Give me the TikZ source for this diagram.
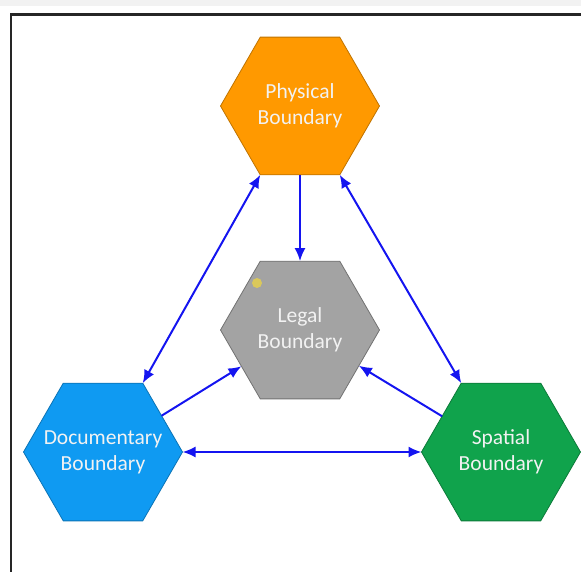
\documentclass[tikz,border=0pt]{standalone}
\usepackage{fontspec}
\setmainfont{Carlito}
\usetikzlibrary{shapes.geometric,arrows.meta}
\definecolor{naranja}{HTML}{FF9900}
\definecolor{gris}{HTML}{A3A3A3}
\definecolor{celeste}{HTML}{0F9AF2}
\definecolor{verde}{HTML}{10A34C}
\definecolor{azul}{HTML}{1414F0}
\definecolor{amarillo}{HTML}{E8D24A}
\begin{document}
\begin{tikzpicture}[x=1pt,y=-1pt,
    rotulo/.style={text=white!95!black, align=center, font=\fontsize{21.5}{26}\selectfont},
    hexa/.style={regular polygon, regular polygon sides=6, minimum size=159pt,
        inner sep=0pt, outer sep=0pt, line width=0.8pt, label={[rotulo]center:#1}},
    flecha/.style={draw=azul, line width=2pt, >={Latex[length=13pt,width=11pt]}}]
    \useasboundingbox (0,0) rectangle (581,572);
    \fill[black!5] (0,0) rectangle (581,6);
    \draw[line width=2.8pt, black!85] (11,572) -- (11,14.5) -- (581,14.5);
    % Dibuja los hexagonos
    \node[hexa={Physical\\Boundary}, fill=naranja, draw=naranja!75!black] (fisico) at (300,106) {};
    \node[hexa={Legal\\Boundary}, fill=gris, draw=gris!70!black] (legal) at (300,330) {};
    \node[hexa={Documentary\\Boundary}, fill=celeste, draw=celeste!75!black] (documental) at (103,452) {};
    \node[hexa={Spatial\\Boundary}, fill=verde, draw=verde!75!black] (espacial) at (501,452) {};
    \fill[amarillo, opacity=0.8] (257,283) circle (5);
    % Flechas entre los limites
    \draw[flecha, ->] (fisico) -- (legal);
    \draw[flecha, <->] (fisico.240) -- (documental.60);
    \draw[flecha, <->] (fisico.300) -- (espacial.120);
    \draw[flecha, ->] (documental) -- (legal);
    \draw[flecha, ->] (espacial) -- (legal);
    \draw[flecha, <->] (documental) -- (espacial);
\end{tikzpicture}
\end{document}
